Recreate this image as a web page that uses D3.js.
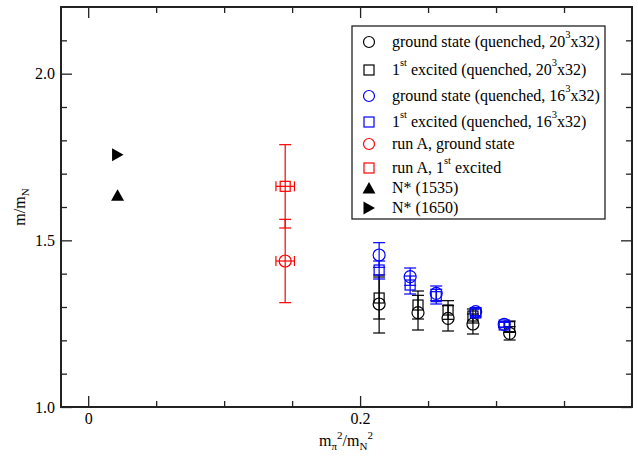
<!DOCTYPE html>
<html><head><meta charset="utf-8">
<script src="https://cdn.jsdelivr.net/npm/d3@7"></script>
<style>body{margin:0;background:#fff}svg{display:block}</style>
</head><body><svg id="c" width="638" height="457" font-family="'Liberation Serif', 'Times New Roman', serif"></svg>
<script>
// ---- data ----
const xQ20 = [0.214, 0.2426, 0.2647, 0.283, 0.310];
const gsQ20 = [1.309, 1.283, 1.266, 1.249, 1.221];
const gsQ20err = [0.087, 0.052, 0.038, 0.030, 0.020];
const exQ20 = [1.327, 1.306, 1.291, 1.273, 1.241];
const exQ20err = [0.063, 0.042, 0.028, 0.021, 0.017];

const xQ16 = [0.214, 0.2368, 0.256, 0.285, 0.306];
const gsQ16 = [1.456, 1.391, 1.341, 1.286, 1.248];
const gsQ16err = [0.037, 0.026, 0.022, 0.012, 0.008];
const exQ16 = [1.411, 1.366, 1.331, 1.282, 1.246];
const exQ16err = [0.027, 0.027, 0.022, 0.012, 0.008];

const xRunA = [0.1449];
const xRunAerr = [0.0068];
const gsRunA = [1.438];
const gsRunAerr = [0.125];
const exRunA = [1.662];
const exRunAerr = [0.125];

const xNstar = [0.0216];
const nstar1535 = [1.635];
const nstar1650 = [1.757];

const xMajor = [0, 0.2];
const xMinor = [0.05, 0.1, 0.15, 0.25, 0.3, 0.35];
const yMajor = [1.0, 1.5, 2.0];
const yMinor = [1.1, 1.2, 1.3, 1.4, 1.6, 1.7, 1.8, 1.9, 2.1];

// ---- layout ----
const FONT = "'Liberation Serif', 'Times New Roman', serif";
const svg = d3.select("#c");
const L = 61, R = 632, T = 7, B = 407;
const x = d3.scaleLinear().domain([-0.02, 0.4]).range([L, R]);
const y = d3.scaleLinear().domain([1.0, 2.2]).range([B, T]);
const fmtY = d3.format(".1f");
const fmtX = v => v === 0 ? "0" : d3.format(".1f")(v);

function axis(gen, tr, vals, size, fmt, show) {
  const g = svg.append("g").attr("transform", tr)
    .call(gen.tickValues(vals).tickSizeInner(-size).tickSizeOuter(0).tickPadding(6)
      .tickFormat(show ? fmt : () => ""));
  g.attr("font-family", FONT).attr("font-size", 16);
  g.select(".domain").remove();
  g.selectAll("line").attr("stroke", "#222").attr("stroke-width", 1.3);
  g.selectAll("text").attr("fill", "#000");
  return g;
}
axis(d3.axisBottom(x), `translate(0,${B})`, xMajor, 11, fmtX, true);
axis(d3.axisBottom(x), `translate(0,${B})`, xMinor, 6, fmtX, false);
axis(d3.axisTop(x), `translate(0,${T})`, xMajor, 11, fmtX, false);
axis(d3.axisTop(x), `translate(0,${T})`, xMinor, 6, fmtX, false);
axis(d3.axisLeft(y), `translate(${L},0)`, yMajor, 11, fmtY, true);
axis(d3.axisLeft(y), `translate(${L},0)`, yMinor, 6, fmtY, false);
axis(d3.axisRight(y), `translate(${R},0)`, yMajor, 11, fmtY, false);
axis(d3.axisRight(y), `translate(${R},0)`, yMinor, 6, fmtY, false);

svg.append("rect").attr("x", L).attr("y", T).attr("width", R - L).attr("height", B - T)
  .attr("fill", "none").attr("stroke", "#222").attr("stroke-width", 2);

// ---- marks ----
const plot = svg.append("g");
const CAP = 6;
function yerr(xs, ys, es, color) {
  xs.forEach((xv, i) => {
    const px = x(xv), y1 = y(ys[i] + es[i]), y0 = y(ys[i] - es[i]);
    plot.append("line").attr("x1", px).attr("x2", px).attr("y1", y1).attr("y2", y0)
      .attr("stroke", color).attr("stroke-width", 1.2);
    [y1, y0].forEach(py => plot.append("line").attr("x1", px - CAP).attr("x2", px + CAP)
      .attr("y1", py).attr("y2", py).attr("stroke", color).attr("stroke-width", 1.2));
  });
}
function xerr(xs, xe, ys, color) {
  xs.forEach((xv, i) => {
    const py = y(ys[i]), x0 = x(xv - xe[i]), x1 = x(xv + xe[i]);
    plot.append("line").attr("x1", x0).attr("x2", x1).attr("y1", py).attr("y2", py)
      .attr("stroke", color).attr("stroke-width", 1.2);
    [x0, x1].forEach(px => plot.append("line").attr("x1", px).attr("x2", px)
      .attr("y1", py - 5).attr("y2", py + 5).attr("stroke", color).attr("stroke-width", 1.2));
  });
}
function circles(xs, ys, color) {
  plot.selectAll(null).data(xs).enter().append("circle")
    .attr("cx", d => x(d)).attr("cy", (d, i) => y(ys[i])).attr("r", 6)
    .attr("fill", "none").attr("stroke", color).attr("stroke-width", 1.2);
}
function squares(xs, ys, color) {
  plot.selectAll(null).data(xs).enter().append("rect")
    .attr("x", d => x(d) - 5).attr("y", (d, i) => y(ys[i]) - 5).attr("width", 10).attr("height", 10)
    .attr("fill", "none").attr("stroke", color).attr("stroke-width", 1.2);
}
const triUp = "M0,-6L6.5,5.5L-6.5,5.5Z";
const triRight = "M-5.5,-6.5L6,0L-5.5,6.5Z";

yerr(xQ20, gsQ20, gsQ20err, "#000");
yerr(xQ20, exQ20, exQ20err, "#000");
circles(xQ20, gsQ20, "#000");
squares(xQ20, exQ20, "#000");
yerr(xQ16, gsQ16, gsQ16err, "#0000ff");
yerr(xQ16, exQ16, exQ16err, "#0000ff");
circles(xQ16, gsQ16, "#0000ff");
squares(xQ16, exQ16, "#0000ff");
yerr(xRunA, gsRunA, gsRunAerr, "#ff0000");
yerr(xRunA, exRunA, exRunAerr, "#ff0000");
xerr(xRunA, xRunAerr, gsRunA, "#ff0000");
xerr(xRunA, xRunAerr, exRunA, "#ff0000");
circles(xRunA, gsRunA, "#ff0000");
squares(xRunA, exRunA, "#ff0000");
plot.selectAll(null).data(xNstar).enter().append("path")
  .attr("d", triUp).attr("transform", (d, i) => `translate(${x(d)},${y(nstar1535[i])})`).attr("fill", "#000");
plot.selectAll(null).data(xNstar).enter().append("path")
  .attr("d", triRight).attr("transform", (d, i) => `translate(${x(d)},${y(nstar1650[i])})`).attr("fill", "#000");

// ---- legend ----
const lg = svg.append("g").attr("font-family", FONT);
lg.append("rect").attr("x", 352).attr("y", 26).attr("width", 253).attr("height", 193)
  .attr("fill", "#fff").attr("stroke", "#222").attr("stroke-width", 1.3);
const items = [
  {sym: "c", col: "#000", y: 42, parts: [["ground state (quenched, 20"], ["3", "sup"], ["x32)"]]},
  {sym: "s", col: "#000", y: 70, parts: [["1"], ["st", "sup"], [" excited (quenched, 20"], ["3", "sup"], ["x32)"]]},
  {sym: "c", col: "#0000ff", y: 96, parts: [["ground state (quenched, 16"], ["3", "sup"], ["x32)"]]},
  {sym: "s", col: "#0000ff", y: 122, parts: [["1"], ["st", "sup"], [" excited (quenched, 16"], ["3", "sup"], ["x32)"]]},
  {sym: "c", col: "#ff0000", y: 144, parts: [["run A, ground state"]]},
  {sym: "s", col: "#ff0000", y: 168, parts: [["run A, 1"], ["st", "sup"], [" excited"]]},
  {sym: "tu", col: "#000", y: 188, parts: [["N* (1535)"]]},
  {sym: "tr", col: "#000", y: 208, parts: [["N* (1650)"]]}
];
items.forEach(it => {
  const sx = 369;
  if (it.sym === "c") lg.append("circle").attr("cx", sx).attr("cy", it.y).attr("r", 5.5)
    .attr("fill", "none").attr("stroke", it.col).attr("stroke-width", 1.2);
  else if (it.sym === "s") lg.append("rect").attr("x", sx - 5).attr("y", it.y - 5).attr("width", 10).attr("height", 10)
    .attr("fill", "none").attr("stroke", it.col).attr("stroke-width", 1.2);
  else lg.append("path").attr("d", it.sym === "tu" ? triUp : triRight)
    .attr("transform", `translate(${sx},${it.y})`).attr("fill", it.col);
  const t = lg.append("text").attr("x", 392).attr("y", it.y + 5).attr("font-size", 16).attr("fill", "#000");
  let n = 0;
  it.parts.forEach(p => {
    if (p[1] === "sup") t.append("tspan").attr("dy", -9).attr("font-size", 10.5).text(p[0]);
    else {
      const s = t.append("tspan").text(p[0]);
      if (n > 0) s.attr("dy", 9);
    }
    n++;
  });
});

// ---- axis titles ----
const xt = svg.append("text").attr("x", 346).attr("y", 446).attr("text-anchor", "middle")
  .attr("font-family", FONT).attr("font-size", 16).attr("fill", "#000");
xt.append("tspan").text("m");
xt.append("tspan").attr("dy", 4).attr("font-size", 11).text("π");
xt.append("tspan").attr("dy", -11).attr("font-size", 11).text("2");
xt.append("tspan").attr("dy", 7).text("/m");
xt.append("tspan").attr("dy", 4).attr("font-size", 11).text("N");
xt.append("tspan").attr("dy", -11).attr("font-size", 11).text("2");

const yt = svg.append("text").attr("transform", "translate(25,207) rotate(-90)").attr("text-anchor", "middle")
  .attr("font-family", FONT).attr("font-size", 16).attr("fill", "#000");
yt.append("tspan").text("m/m");
yt.append("tspan").attr("dy", 4).attr("font-size", 11).text("N");
</script></body></html>
